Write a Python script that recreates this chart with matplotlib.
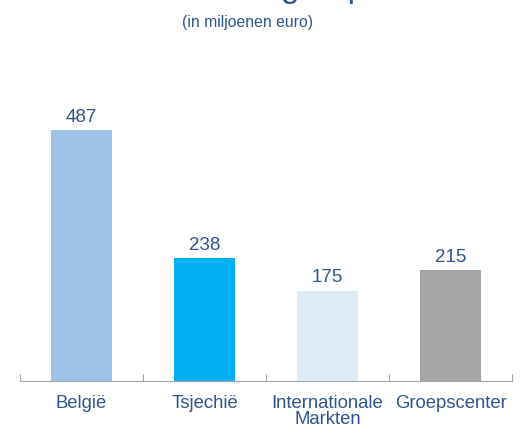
import matplotlib.pyplot as plt

segments = ["België", "Tsjechië", "Internationale\nMarkten", "Groepscenter"]
winst = [487, 238, 175, 215]
kleuren = ["#9DC3E6", "#00B0F0", "#DDEBF7", "#A5A5A5"]

tekst = "#2F5590"
plt.rcParams["font.family"] = ["Liberation Sans", "DejaVu Sans"]

fig = plt.figure(figsize=(5.26, 4.30), dpi=100)
ax = fig.add_axes([20 / 526, 49 / 430, 492 / 526, 309 / 430])

x = range(len(segments))
bars = ax.bar(x, winst, width=0.49, color=kleuren)
for b, v in zip(bars, winst):
    ax.text(b.get_x() + b.get_width() / 2, v + 9, str(v), ha="center", va="bottom",
            fontsize=13.5, color=tekst)

ax.set_xlim(-0.5, len(segments) - 0.5)
ax.set_ylim(0, 600)
ax.set_xticks([i - 0.5 for i in range(len(segments) + 1)])
ax.set_xticklabels([])
ax.set_xticks(list(x), minor=True)
ax.set_xticklabels(segments, minor=True, fontsize=13.3, color=tekst, linespacing=0.92)
ax.tick_params(axis="x", which="major", length=5, color="#A6A6A6", direction="in")
ax.tick_params(axis="x", which="minor", length=0, pad=10)
ax.set_yticks([])
for s in ["top", "right", "left"]:
    ax.spines[s].set_visible(False)
ax.spines["bottom"].set_color("#A6A6A6")

# titel valt grotendeels buiten beeld, zoals in het origineel
fig.text(0.5, 1 + 3 / 430, "Aandeel in de groepswinst", ha="center", va="baseline",
         fontsize=24, color=tekst)
fig.text(248 / 526, 1 - 22 / 430, "(in miljoenen euro)", ha="center", va="center",
         fontsize=11.3, color=tekst)

fig.savefig("out.png", dpi=100)
